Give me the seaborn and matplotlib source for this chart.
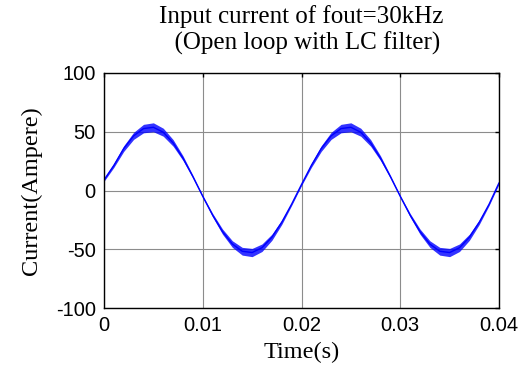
import matplotlib
matplotlib.use("Agg")
import matplotlib.pyplot as plt
import numpy as np
import pandas as pd
import seaborn as sns

# tiempo en segundos (cada 1 ms)
tiempo = [0.000, 0.001, 0.002, 0.003, 0.004, 0.005, 0.006, 0.007, 0.008, 0.009,
          0.010, 0.011, 0.012, 0.013, 0.014, 0.015, 0.016, 0.017, 0.018, 0.019,
          0.020, 0.021, 0.022, 0.023, 0.024, 0.025, 0.026, 0.027, 0.028, 0.029,
          0.030, 0.031, 0.032, 0.033, 0.034, 0.035, 0.036, 0.037, 0.038, 0.039,
          0.040]
# valor medio de la corriente (A)
corriente = [9.0, 21.4, 35.7, 46.5, 52.7, 53.8, 49.6, 40.5, 27.5, 11.8,
             -5.0, -21.0, -35.0, -45.6, -51.7, -52.8, -48.7, -39.8, -27.0, -11.6,
             5.1, 21.4, 35.7, 46.5, 52.7, 53.8, 49.6, 40.5, 27.5, 11.8,
             -5.0, -21.0, -35.0, -45.6, -51.7, -52.8, -48.7, -39.8, -27.0, -11.6,
             6.5]
# medio rizo de conmutacion (A)
rizo = [1.2, 1.7, 2.4, 3.0, 3.6, 3.8, 3.4, 2.8, 2.0, 1.2,
        0.9, 1.5, 2.2, 2.8, 3.3, 3.5, 3.2, 2.6, 1.9, 1.1,
        0.9, 1.7, 2.4, 3.0, 3.6, 3.8, 3.4, 2.8, 2.0, 1.2,
        0.9, 1.5, 2.2, 2.8, 3.3, 3.5, 3.2, 2.6, 1.9, 1.1,
        1.0]

xticks = [0, 0.01, 0.02, 0.03, 0.04]
yticks = [-100, -50, 0, 50, 100]

df = pd.DataFrame({"t": tiempo, "i": corriente, "r": rizo})

sns.set_style("white")
plt.rcParams["font.family"] = ["Liberation Sans", "DejaVu Sans"]
plt.rcParams["axes.unicode_minus"] = False
plt.rcParams["text.color"] = "black"
plt.rcParams["axes.labelcolor"] = "black"
plt.rcParams["xtick.color"] = "black"
plt.rcParams["ytick.color"] = "black"

fig = plt.figure(figsize=(5.27, 3.67), dpi=100)
ax = fig.add_axes([104 / 527, 1 - 308 / 367, 395 / 527, 235 / 367])

ax.fill_between(df["t"], df["i"] - df["r"], df["i"] + df["r"],
                color="#0000ff", alpha=0.8, linewidth=0)
sns.lineplot(data=df, x="t", y="i", ax=ax, color="#0000ff", linewidth=1.0)

ax.set_xlim(0, 0.04)
ax.set_ylim(-100, 100)
ax.set_xticks(xticks)
ax.set_xticklabels(["0", "0.01", "0.02", "0.03", "0.04"])
ax.set_yticks(yticks)
ax.grid(True, color="#8c8c8c", linewidth=0.8)
ax.tick_params(direction="in", length=3, width=1, labelsize=14.5,
               top=True, right=True, pad=6)
for s in ax.spines.values():
    s.set_color("black")
    s.set_linewidth(1.0)

serif = ["Liberation Serif", "DejaVu Serif"]
ax.set_title("Input current of fout=30kHz\n  (Open loop with LC filter)",
             fontsize=18, family=serif, pad=17, color="black")
ax.set_xlabel("Time(s)", fontsize=17.5, family=serif, labelpad=5)
ax.set_ylabel("Current(Ampere)", fontsize=17.5, family=serif, labelpad=10)

fig.savefig("out.png", dpi=100)
